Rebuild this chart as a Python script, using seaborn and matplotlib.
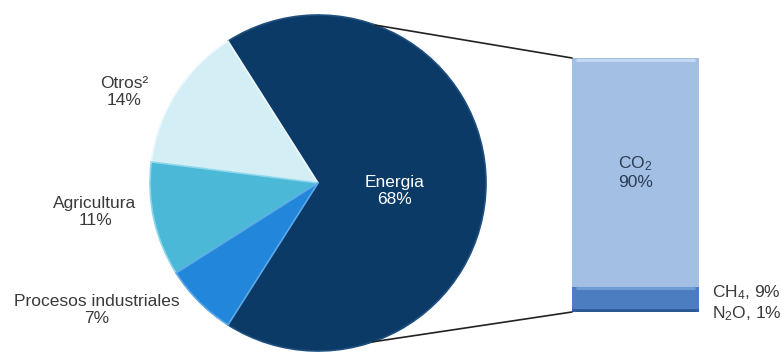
import numpy as np
import pandas as pd
import matplotlib
matplotlib.use("Agg")
import matplotlib.pyplot as plt
from matplotlib.patches import ConnectionPatch
import seaborn as sns

# Emission shares by sector
sectors = ["Energia", "Otros²", "Agricultura", "Procesos industriales"]
sector_share = [68, 14, 11, 7]
sector_colors = ["#0c3a66", "#d4eef6", "#4ab8d6", "#2287da"]

# Breakdown of the energy sector by gas (bottom to top)
gases = ["N$_2$O", "CH$_4$", "CO$_2$"]
gas_share = [1, 9, 90]
gas_colors = ["#2f5f9e", "#4c7dc0", "#a3c0e4"]

sns.set_theme(style="white")
plt.rcParams["font.family"] = ["Liberation Sans", "DejaVu Sans"]
plt.rcParams["mathtext.fontset"] = "custom"
plt.rcParams["mathtext.rm"] = "Liberation Sans"
plt.rcParams["mathtext.default"] = "rm"

W, H = 781, 352
fig = plt.figure(figsize=(W / 100, H / 100), dpi=100)
fig.patch.set_facecolor("white")

# ---- pie of sectors ----
cx, cy, r = 318, 183, 168
ax_pie = fig.add_axes([(cx - r) / W, (H - cy - r) / H, 2 * r / W, 2 * r / H])
start = -sector_share[0] / 100 * 360 / 2
edge_cols = ["#1d4f80", "#eef9fc", "#8ad6ea", "#5aa8e8"]
wedges, _ = ax_pie.pie(sector_share, colors=sector_colors, startangle=start,
                       counterclock=True, radius=1,
                       wedgeprops=dict(linewidth=1.2))
for w, ec in zip(wedges, edge_cols):
    w.set_edgecolor(ec)
ax_pie.set_xlim(-1, 1)
ax_pie.set_ylim(-1, 1)
ax_pie.set_aspect("equal")
ax_pie.axis("off")

def pie_xy(px, py):
    return (px - cx) / r, (cy - py) / r

label_color = "#3a3a3a"
fs = 12.5
pie_labels = [
    (f"{sectors[0]}\n{sector_share[0]}%", (395, 191), "white"),
    (f"{sectors[1]}\n{sector_share[1]}%", (124, 92), label_color),
    (f"{sectors[2]}\n{sector_share[2]}%", (95, 212), label_color),
    (f"{sectors[3]}\n{sector_share[3]}%", (97, 310), label_color),
]
for txt, (px, py), col in pie_labels:
    x, y = pie_xy(px, py)
    ax_pie.text(x, y, txt, ha="center", va="center", color=col, fontsize=fs,
                linespacing=1.15, clip_on=False)

# ---- stacked bar of gases ----
bx0, bx1, by0, by1 = 572, 699, 58, 312
ax_bar = fig.add_axes([bx0 / W, (H - by1) / H, (bx1 - bx0) / W, (by1 - by0) / H])
cum = np.cumsum(gas_share)
# draw from the tallest cumulative layer down so each segment shows
for g, top, col in list(zip(gases, cum, gas_colors))[::-1]:
    df = pd.DataFrame({"cat": ["Energia"], "val": [top]})
    sns.barplot(data=df, x="cat", y="val", color=col, width=1.0, ax=ax_bar,
                saturation=1, edgecolor="none")
ax_bar.set_xlim(-0.5, 0.5)
ax_bar.set_ylim(0, 100)
ax_bar.axis("off")

# bevel-like highlight along segment tops
for bottom, top, col in zip(np.concatenate([[0], cum[:-1]]), cum, ["#2a5590", "#7aa6dc", "#cfe3f6"]):
    ax_bar.hlines(top - 0.6, -0.47, 0.47, color=col, linewidth=2, alpha=0.8)

ax_bar.text(0, 55, f"{gases[2]}\n{gas_share[2]}%", ha="center", va="center",
            color="#2b3c55", fontsize=fs, linespacing=1.15)
ax_bar.text(0.6, 3.5, f"{gases[1]}, {gas_share[1]}%\n{gases[0]}, {gas_share[0]}%",
            ha="left", va="center", color=label_color, fontsize=fs,
            linespacing=1.15, clip_on=False)

# ---- connector lines between pie and bar ----
for ang, ybar in [(70, 100), (-71, 0)]:
    t = np.deg2rad(ang)
    con = ConnectionPatch(xyA=(np.cos(t), np.sin(t)), coordsA=ax_pie.transData,
                          xyB=(-0.5, ybar), coordsB=ax_bar.transData,
                          color="#222222", linewidth=1.2)
    fig.add_artist(con)

fig.savefig("out.png", dpi=100, facecolor="white")
